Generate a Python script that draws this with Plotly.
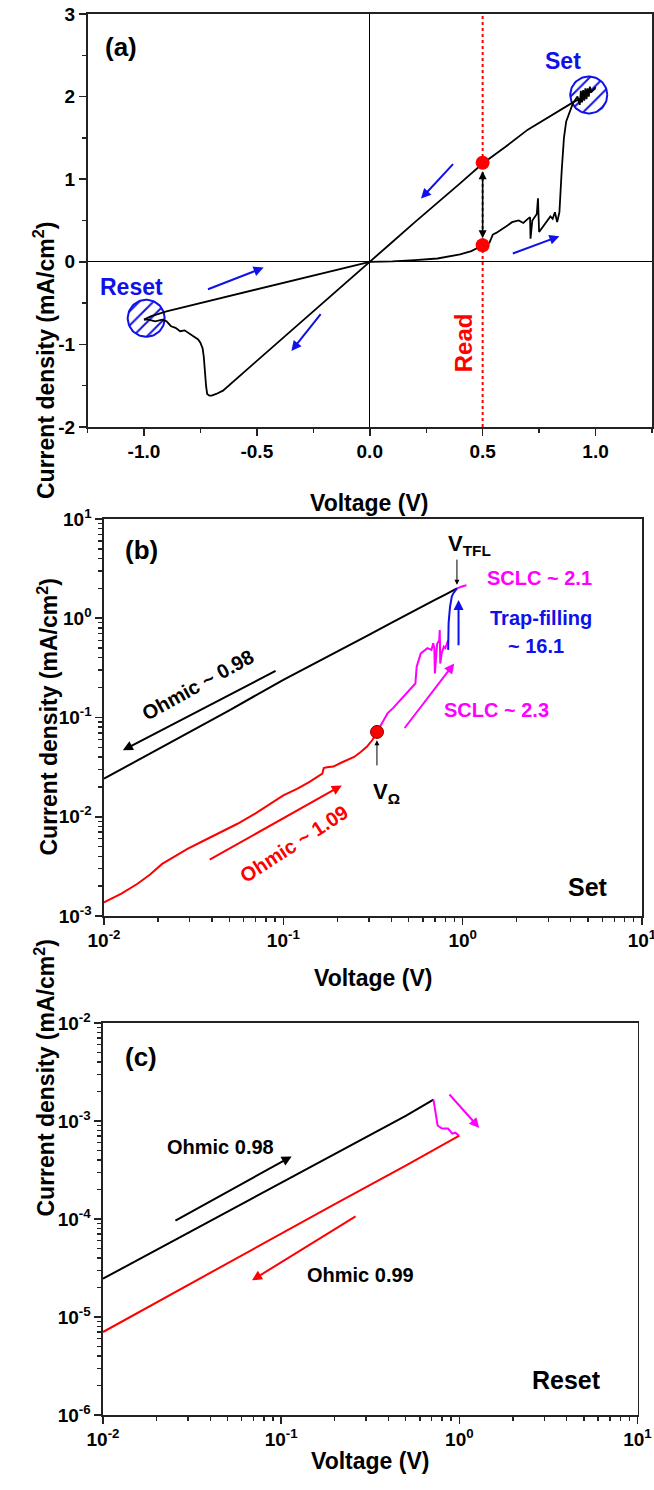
import numpy as np
import plotly.graph_objects as go

# ---------------- data: panel (a) linear I-V loop ----------------
a_set_v = [0, 0.1, 0.2, 0.3, 0.4, 0.45, 0.5, 0.53, 0.545, 0.56, 0.6, 0.63, 0.66, 0.68, 0.7, 0.71,
           0.712, 0.72, 0.74, 0.745, 0.75, 0.76, 0.78, 0.8, 0.81, 0.82, 0.83, 0.84, 0.85, 0.86,
           0.87, 0.885, 0.9, 0.92, 0.93, 0.935, 0.94, 0.945, 0.95, 0.955, 0.96, 0.965, 0.97,
           0.975, 0.98, 0.99, 1.0]
a_set_j = [0, 0.005, 0.02, 0.04, 0.09, 0.13, 0.2, 0.23, 0.33, 0.35, 0.42, 0.48, 0.5, 0.47, 0.52, 0.54,
           0.28, 0.5, 0.58, 0.77, 0.36, 0.4, 0.47, 0.55, 0.52, 0.6, 0.48, 0.6, 1.1, 1.5,
           1.7, 1.82, 1.92, 2.0, 1.9, 2.07, 1.93, 2.08, 1.95, 2.1, 1.97, 2.1, 2.0,
           2.12, 2.05, 2.08, 2.12]
a_ret_v = [1.0, 0.95, 0.9, 0.8, 0.7, 0.6, 0.5, 0.4, 0.3, 0.2, 0.1, 0, -0.1, -0.2, -0.3, -0.4, -0.5,
           -0.6, -0.65, -0.68, -0.7, -0.71, -0.72, -0.725, -0.73, -0.735, -0.74, -0.75, -0.76,
           -0.78, -0.8, -0.82, -0.84, -0.86, -0.88, -0.9, -0.92, -0.95, -0.98, -1.0]
a_ret_j = [2.1, 2.0, 1.93, 1.77, 1.6, 1.39, 1.19, 0.95, 0.72, 0.48, 0.24, 0, -0.24, -0.48, -0.72,
           -0.96, -1.2, -1.45, -1.56, -1.6, -1.62, -1.62, -1.6, -1.5, -1.3, -1.15, -1.05, -0.98,
           -0.94, -0.9, -0.86, -0.83, -0.84, -0.8, -0.78, -0.72, -0.7, -0.72, -0.7, -0.7]
a_reset_v = [-1.0, -0.97, -0.9, -0.5, 0]
a_reset_j = [-0.7, -0.66, -0.6, -0.33, 0]
read_v = [0.5, 0.5]
read_j = [1.2, 0.2]

# ---------------- data: panel (b) Set, log-log ----------------
b_hrs_v = [0.01, 0.02, 0.05, 0.1, 0.2, 0.3, 0.4, 0.5, 0.6, 0.7, 0.8, 0.9, 0.93]
b_hrs_j = [0.0242, 0.048, 0.118, 0.24, 0.46, 0.68, 0.9, 1.12, 1.33, 1.53, 1.73, 1.93, 2.0]
b_ohm_v = [0.01, 0.0125, 0.0153, 0.018, 0.0211, 0.025, 0.0292, 0.035, 0.042, 0.0555, 0.07,
           0.085, 0.1, 0.12, 0.14, 0.165, 0.168, 0.175, 0.19, 0.21, 0.248, 0.27, 0.292, 0.315, 0.333]
b_ohm_j = [0.00137, 0.00168, 0.0021, 0.0026, 0.00335, 0.0040, 0.00475, 0.0056, 0.0066, 0.0085,
           0.0108, 0.0135, 0.0164, 0.0192, 0.0225, 0.0272, 0.031, 0.0315, 0.032, 0.035, 0.040,
           0.045, 0.0506, 0.06, 0.0716]
b_sclc_v = [0.333, 0.35, 0.381, 0.41, 0.448, 0.48, 0.526, 0.545, 0.554, 0.584, 0.636, 0.67, 0.685,
            0.695, 0.70, 0.72, 0.74, 0.745, 0.75, 0.765, 0.785, 0.80, 0.83]
b_sclc_j = [0.0716, 0.085, 0.11, 0.125, 0.15, 0.17, 0.204, 0.22, 0.325, 0.443, 0.50, 0.48, 0.56,
            0.50, 0.278, 0.55, 0.60, 0.76, 0.35, 0.45, 0.518, 0.5, 0.60]
b_trap_v = [0.83, 0.835, 0.85, 0.87, 0.89, 0.91, 0.93]
b_trap_j = [0.48, 0.9, 1.3, 1.66, 1.8, 1.93, 2.0]
b_top_v = [0.93, 0.96, 1.0, 1.05]
b_top_j = [2.0, 2.05, 2.1, 2.15]
v_omega = [0.333]
j_omega = [0.0716]

# ---------------- data: panel (c) Reset, log-log ----------------
c_hrs_v = [0.01, 0.02, 0.05, 0.1, 0.2, 0.5, 0.716]
c_hrs_j = [2.46e-5, 4.85e-5, 1.19e-4, 2.35e-4, 4.6e-4, 1.13e-3, 1.65e-3]
c_tr_v = [0.716, 0.725, 0.735, 0.755, 0.798, 0.865, 0.912, 0.95, 0.99, 1.0]
c_tr_j = [1.65e-3, 1.45e-3, 1.19e-3, 9.0e-4, 8.36e-4, 8.36e-4, 7.43e-4, 7.6e-4, 7.14e-4, 7.1e-4]
c_lrs_v = [1.0, 0.5, 0.2, 0.1, 0.05, 0.02, 0.01]
c_lrs_j = [7.1e-4, 3.5e-4, 1.42e-4, 7.1e-5, 3.55e-5, 1.41e-5, 7.03e-6]

lin_xticks = [-1.0, -0.5, 0.0, 0.5, 1.0]
lin_xtext = ["-1.0", "-0.5", "0.0", "0.5", "1.0"]
lin_yticks = [-2, -1, 0, 1, 2, 3]
lin_ytext = ["-2", "-1", "0", "1", "2", "3"]
log_x_ticks = [0.01, 0.1, 1, 10]
log_x_text = ["10<sup>-2</sup>", "10<sup>-1</sup>", "10<sup>0</sup>", "10<sup>1</sup>"]
b_y_ticks = [0.001, 0.01, 0.1, 1, 10]
b_y_text = ["10<sup>-3</sup>", "10<sup>-2</sup>", "10<sup>-1</sup>", "10<sup>0</sup>", "10<sup>1</sup>"]
c_y_ticks = [1e-6, 1e-5, 1e-4, 1e-3, 1e-2]
c_y_text = ["10<sup>-6</sup>", "10<sup>-5</sup>", "10<sup>-4</sup>", "10<sup>-3</sup>", "10<sup>-2</sup>"]

FONT = "Liberation Sans, Arial, sans-serif"
W, H = 654, 1490
BLUE = "#1010e8"
MAG = "#ff00ff"
RED = "#ff0000"

fig = go.Figure()

# hatched circles (decoration) in panel (a)
th = np.linspace(0, 2 * np.pi, 80)
for cx, cy in [(0.97, 2.02), (-0.99, -0.684)]:
    fig.add_trace(go.Scatter(x=cx + 0.082 * np.cos(th), y=cy + 0.224 * np.sin(th),
                             mode="lines", fill="toself", line=dict(color=BLUE, width=2),
                             fillcolor="rgba(0,0,0,0)",
                             fillpattern=dict(shape="/", fgcolor=BLUE, bgcolor="rgba(0,0,0,0)",
                                              size=10, solidity=0.2),
                             xaxis="x", yaxis="y", hoverinfo="skip", showlegend=False))

lk = dict(mode="lines", showlegend=False)
fig.add_trace(go.Scatter(x=a_set_v, y=a_set_j, line=dict(color="black", width=1.8), xaxis="x", yaxis="y", **lk))
fig.add_trace(go.Scatter(x=a_ret_v, y=a_ret_j, line=dict(color="black", width=1.8), xaxis="x", yaxis="y", **lk))
fig.add_trace(go.Scatter(x=a_reset_v, y=a_reset_j, line=dict(color="black", width=1.8), xaxis="x", yaxis="y", **lk))
fig.add_trace(go.Scatter(x=read_v, y=read_j, mode="markers", showlegend=False,
                         marker=dict(color=RED, size=14, line=dict(width=0)), xaxis="x", yaxis="y"))

fig.add_trace(go.Scatter(x=b_hrs_v, y=b_hrs_j, line=dict(color="black", width=2), xaxis="x2", yaxis="y2", **lk))
fig.add_trace(go.Scatter(x=b_ohm_v, y=b_ohm_j, line=dict(color=RED, width=2), xaxis="x2", yaxis="y2", **lk))
fig.add_trace(go.Scatter(x=b_sclc_v, y=b_sclc_j, line=dict(color=MAG, width=2), xaxis="x2", yaxis="y2", **lk))
fig.add_trace(go.Scatter(x=b_trap_v, y=b_trap_j, line=dict(color=BLUE, width=2), xaxis="x2", yaxis="y2", **lk))
fig.add_trace(go.Scatter(x=b_top_v, y=b_top_j, line=dict(color=MAG, width=2), xaxis="x2", yaxis="y2", **lk))
fig.add_trace(go.Scatter(x=v_omega, y=j_omega, mode="markers", showlegend=False,
                         marker=dict(color=RED, size=13, line=dict(color="#8b0000", width=1)),
                         xaxis="x2", yaxis="y2"))

fig.add_trace(go.Scatter(x=c_hrs_v, y=c_hrs_j, line=dict(color="black", width=2), xaxis="x3", yaxis="y3", **lk))
fig.add_trace(go.Scatter(x=c_tr_v, y=c_tr_j, line=dict(color=MAG, width=2), xaxis="x3", yaxis="y3", **lk))
fig.add_trace(go.Scatter(x=c_lrs_v, y=c_lrs_j, line=dict(color=RED, width=2), xaxis="x3", yaxis="y3", **lk))

tickfont = dict(family=FONT, size=19, color="black", weight="bold")
axbase = dict(showline=True, linecolor="#222", linewidth=1.6, mirror=True, ticks="outside",
              tickcolor="#222", tickwidth=1.6, ticklen=7, showgrid=False, zeroline=False,
              tickfont=tickfont, tickmode="array", automargin=False, ticklabeloverflow="allow")


def minor_log(lo, hi):
    return [m * 10.0 ** e for e in range(lo, hi) for m in range(2, 10)]


fig.update_layout(
    template="none",
    width=W, height=H, margin=dict(l=0, r=0, t=0, b=0, pad=0, autoexpand=False),
    paper_bgcolor="white", plot_bgcolor="white", showlegend=False,
    font=dict(family=FONT, color="black"),
    xaxis=dict(axbase, domain=[87.5 / W, 652 / W], range=[-1.25, 1.25], anchor="y",
               tickvals=lin_xticks, ticktext=lin_xtext,
               zeroline=True, zerolinecolor="black", zerolinewidth=1,
               minor=dict(tickvals=[-1.25, -0.75, -0.25, 0.25, 0.75, 1.25], ticklen=4,
                          ticks="outside", tickcolor="#222", tickwidth=1.4)),
    yaxis=dict(axbase, domain=[1 - 427 / H, 1 - 14 / H], range=[-2, 3], anchor="x",
               tickvals=lin_yticks, ticktext=lin_ytext,
               zeroline=True, zerolinecolor="black", zerolinewidth=1,
               minor=dict(tickvals=[-1.5, -0.5, 0.5, 1.5, 2.5], ticklen=4,
                          ticks="outside", tickcolor="#222", tickwidth=1.4)),
    xaxis2=dict(axbase, type="log", domain=[104 / W, 642 / W], range=[-2, 1], anchor="y2",
                tickvals=log_x_ticks, ticktext=log_x_text,
                minor=dict(tickvals=minor_log(-2, 1), ticklen=4, ticks="outside",
                           tickcolor="#222", tickwidth=1.4)),
    yaxis2=dict(axbase, type="log", domain=[1 - 916 / H, 1 - 519 / H], range=[-3, 1], anchor="x2",
                tickvals=b_y_ticks, ticktext=b_y_text,
                minor=dict(tickvals=minor_log(-3, 1), ticklen=4, ticks="outside",
                           tickcolor="#222", tickwidth=1.4)),
    xaxis3=dict(axbase, type="log", domain=[103 / W, 637.5 / W], range=[-2, 1], anchor="y3",
                tickvals=log_x_ticks, ticktext=log_x_text,
                minor=dict(tickvals=minor_log(-2, 1), ticklen=4, ticks="outside",
                           tickcolor="#222", tickwidth=1.4)),
    yaxis3=dict(axbase, type="log", domain=[1 - 1415 / H, 1 - 1023 / H], range=[-6, -2], anchor="x3",
                tickvals=c_y_ticks, ticktext=c_y_text,
                minor=dict(tickvals=minor_log(-6, -2), ticklen=4, ticks="outside",
                           tickcolor="#222", tickwidth=1.4)),
)

# red dotted "Read" line
fig.add_shape(type="line", xref="x", yref="y domain", x0=0.5, x1=0.5, y0=0, y1=1,
              line=dict(color=RED, width=2, dash="dot"))

ann = []


def txt(x, y, s, size, color="black", xr="x", yr="y", angle=0, xanchor="center"):
    ann.append(dict(x=x, y=y, xref=xr, yref=yr, text="<b>" + s + "</b>", showarrow=False,
                    textangle=angle, xanchor=xanchor, yanchor="middle",
                    font=dict(family=FONT, size=size, color=color)))


def arrow(x0, y0, x1, y1, color, xr, yr, width=2, side="end", head=2, size=1.0, standoff=0):
    ann.append(dict(x=x1, y=y1, ax=x0, ay=y0, xref=xr, yref=yr, axref=xr, ayref=yr, text="",
                    showarrow=True, arrowhead=head, arrowsize=size, arrowwidth=width,
                    arrowcolor=color, arrowside=side, standoff=standoff, startstandoff=standoff,
                    startarrowhead=head, startarrowsize=size))


# axis titles
for yc, xc in [((14 + 427) / 2, 27), ((519 + 916) / 2, 31), ((1023 + 1415) / 2, 27)]:
    ann.append(dict(x=xc / W, y=1 - yc / H, xref="paper", yref="paper", showarrow=False,
                    text="<b>Current density (mA/cm<sup>2</sup>)</b>", textangle=-90,
                    font=dict(family=FONT, size=23, color="black")))
for yc, xc in [(488, 369), (978, 373), (1476, 370)]:
    ann.append(dict(x=xc / W, y=1 - yc / H, xref="paper", yref="paper", showarrow=False,
                    text="<b>Voltage (V)</b>", font=dict(family=FONT, size=23, color="black")))

# panel (a)
txt(-1.1, 2.6, "(a)", 26)
txt(0.858, 2.43, "Set", 23, BLUE)
txt(-1.055, -0.305, "Reset", 23, BLUE)
txt(0.415, -0.98, "Read", 24, RED, angle=-90)
arrow(0.375, 1.2, 0.227, 0.765, BLUE, "x", "y")
arrow(0.627, 0.093, 0.84, 0.31, BLUE, "x", "y")
arrow(-0.723, -0.34, -0.47, -0.07, BLUE, "x", "y")
arrow(-0.212, -0.616, -0.347, -1.08, BLUE, "x", "y")
arrow(0.5, 1.2, 0.5, 0.2, "black", "x", "y", width=1.6, side="end+start", standoff=7)

# panel (b) (log10 coordinates for annotations)
txt(-1.79, 0.69, "(b)", 26, xr="x2", yr="y2")
txt(0.04, 0.74, "V<sub>TFL</sub>", 22, xr="x2", yr="y2")
txt(-0.426, -1.76, "V<sub>Ω</sub>", 22, xr="x2", yr="y2")
txt(-1.477, -0.673, "Ohmic ~ 0.98", 20, xr="x2", yr="y2", angle=-29)
txt(-0.942, -2.273, "Ohmic ~ 1.09", 20, RED, xr="x2", yr="y2", angle=-33)
txt(0.186, -0.926, "SCLC ~ 2.3", 20, MAG, xr="x2", yr="y2")
txt(0.43, 0.404, "SCLC ~ 2.1", 20, MAG, xr="x2", yr="y2")
txt(0.435, 0.007, "Trap-filling", 20, BLUE, xr="x2", yr="y2")
txt(0.407, -0.276, "~ 16.1", 20, BLUE, xr="x2", yr="y2")
txt(0.698, -2.71, "Set", 25, xr="x2", yr="y2")
arrow(-1.035, -0.522, -1.895, -1.33, "black", "x2", "y2")
arrow(-1.419, -2.441, -0.674, -1.684, RED, "x2", "y2")
arrow(-0.330, -1.121, -0.047, -0.455, MAG, "x2", "y2")
arrow(-0.023, -0.286, -0.023, 0.185, BLUE, "x2", "y2")
arrow(-0.032, 0.606, -0.032, 0.337, "black", "x2", "y2", width=1, head=2)
arrow(-0.478, -1.498, -0.478, -1.229, "black", "x2", "y2", width=1, head=2)

# panel (c)
txt(-1.785, -2.347, "(c)", 26, xr="x3", yr="y3")
txt(-1.34, -3.265, "Ohmic 0.98", 20, xr="x3", yr="y3")
txt(-0.555, -4.575, "Ohmic 0.99", 20, xr="x3", yr="y3")
txt(0.604, -5.646, "Reset", 25, xr="x3", yr="y3")
arrow(-1.602, -4.024, -0.941, -3.361, "black", "x3", "y3")
arrow(-0.574, -3.963, -1.164, -4.626, RED, "x3", "y3")
arrow(-0.063, -2.714, 0.112, -3.071, MAG, "x3", "y3")

fig.update_layout(annotations=ann)
fig.write_html("out.html", config={"displayModeBar": False, "staticPlot": True},
               post_script="document.body.style.margin='0';document.body.style.padding='0';"
                           "document.documentElement.style.overflow='hidden';")
